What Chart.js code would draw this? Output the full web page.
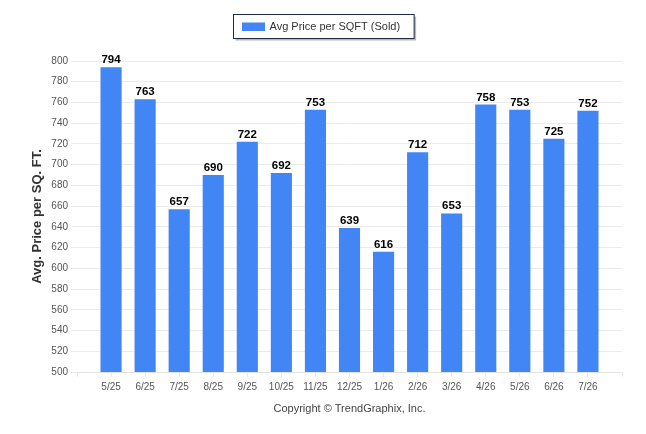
<!DOCTYPE html>
<html>
<head>
<meta charset="utf-8">
<script src="https://cdn.jsdelivr.net/npm/chart.js@4/dist/chart.umd.min.js"></script>
<style>
  html, body { margin: 0; padding: 0; background: #fff; }
  #wrap { width: 646px; height: 434px; position: relative; }
</style>
</head>
<body>
<div id="wrap"><canvas id="chart"></canvas></div>
<script>
/* ---- Data ---- */
const months = ["5/25", "6/25", "7/25", "8/25", "9/25", "10/25", "11/25", "12/25",
                "1/26", "2/26", "3/26", "4/26", "5/26", "6/26", "7/26"];
const avgPrice = [794, 763, 657, 690, 722, 692, 753, 639, 616, 712, 653, 758, 753, 725, 752];
const seriesName = "Avg Price per SQFT (Sold)";
const yTitle = "Avg. Price per SQ. FT.";
const footer = "Copyright \u00A9 TrendGraphix, Inc.";
const yMin = 500, yMax = 800, yStep = 20;

const BAR = "#4285f4";
const GRID = "#ebebeb";
const TICK_COLOR = "#555555";
const FONT = '"Liberation Sans", Arial, Helvetica, sans-serif';

// empty slot on each side of the months, like the original axis
const labels = ["", ...months, ""];
const values = [null, ...avgPrice, null];

/* ---- Value labels above bars ---- */
const valueLabels = {
  id: "valueLabels",
  afterDatasetsDraw(chart) {
    const { ctx } = chart;
    const meta = chart.getDatasetMeta(0);
    ctx.save();
    ctx.font = "bold 11.5px " + FONT;
    ctx.fillStyle = "#000";
    ctx.textAlign = "center";
    ctx.textBaseline = "alphabetic";
    meta.data.forEach((bar, i) => {
      const v = values[i];
      if (v == null) return;
      ctx.fillText(String(v), bar.x, bar.y - 4);
    });
    ctx.restore();
  },
};

/* ---- Boxed legend at top ---- */
const boxLegend = {
  id: "boxLegend",
  afterDraw(chart) {
    const { ctx, width } = chart;
    ctx.save();
    ctx.font = "11px " + FONT;
    const tw = ctx.measureText(seriesName).width;
    const w = 9 + 23 + 4 + tw + 14;
    const h = 24;
    const x = Math.round(width / 2 - w / 2) + 0.5;
    const y = 14.5;
    // shadow
    ctx.fillStyle = "#b8b8b8";
    ctx.fillRect(x + 2, y + 2, w, h);
    ctx.fillStyle = "#fff";
    ctx.fillRect(x, y, w, h);
    ctx.strokeStyle = "#1f2a44";
    ctx.lineWidth = 1;
    ctx.strokeRect(x, y, w, h);
    // swatch
    ctx.fillStyle = BAR;
    ctx.fillRect(x + 8.5, y + 8, 23, 8.5);
    // text
    ctx.fillStyle = "#333";
    ctx.textBaseline = "middle";
    ctx.fillText(seriesName, x + 36, y + h / 2 + 0.5);
    ctx.restore();
  },
};

new Chart(document.getElementById("chart"), {
  type: "bar",
  data: {
    labels,
    datasets: [
      {
        label: seriesName,
        data: values,
        backgroundColor: BAR,
        borderWidth: 0,
        categoryPercentage: 1,
        barPercentage: 0.62,
      },
    ],
  },
  options: {
    responsive: true,
    maintainAspectRatio: false,
    animation: false,
    devicePixelRatio: 1,
    layout: { padding: { top: 61, right: 24, left: 0, bottom: 0 } },
    plugins: {
      legend: { display: false },
      tooltip: { enabled: false },
    },
    scales: {
      x: {
        offset: false,
        grid: { offset: false, drawOnChartArea: false, color: GRID, tickLength: 5 },
        border: { display: true, color: "#e3e3e3" },
        ticks: {
          color: TICK_COLOR,
          font: { family: FONT, size: 10 },
          padding: 4,
          maxRotation: 0,
          autoSkip: false,
        },
        title: {
          display: true,
          text: footer,
          color: "#444",
          font: { family: FONT, size: 11 },
          padding: { top: 0, bottom: 18 },
        },
        afterFit: (s) => { s.height = 62; },
      },
      y: {
        min: yMin,
        max: yMax,
        grid: { color: GRID, tickLength: 6 },
        border: { display: false },
        ticks: {
          stepSize: yStep,
          color: TICK_COLOR,
          font: { family: FONT, size: 10 },
          padding: 3,
        },
        title: {
          display: true,
          text: yTitle,
          color: "#333",
          font: { family: FONT, size: 13, weight: "bold" },
          padding: { top: 30, bottom: 0 },
        },
        afterFit: (s) => { s.width = 77; },
      },
    },
  },
  plugins: [valueLabels, boxLegend],
});
</script>
</body>
</html>
